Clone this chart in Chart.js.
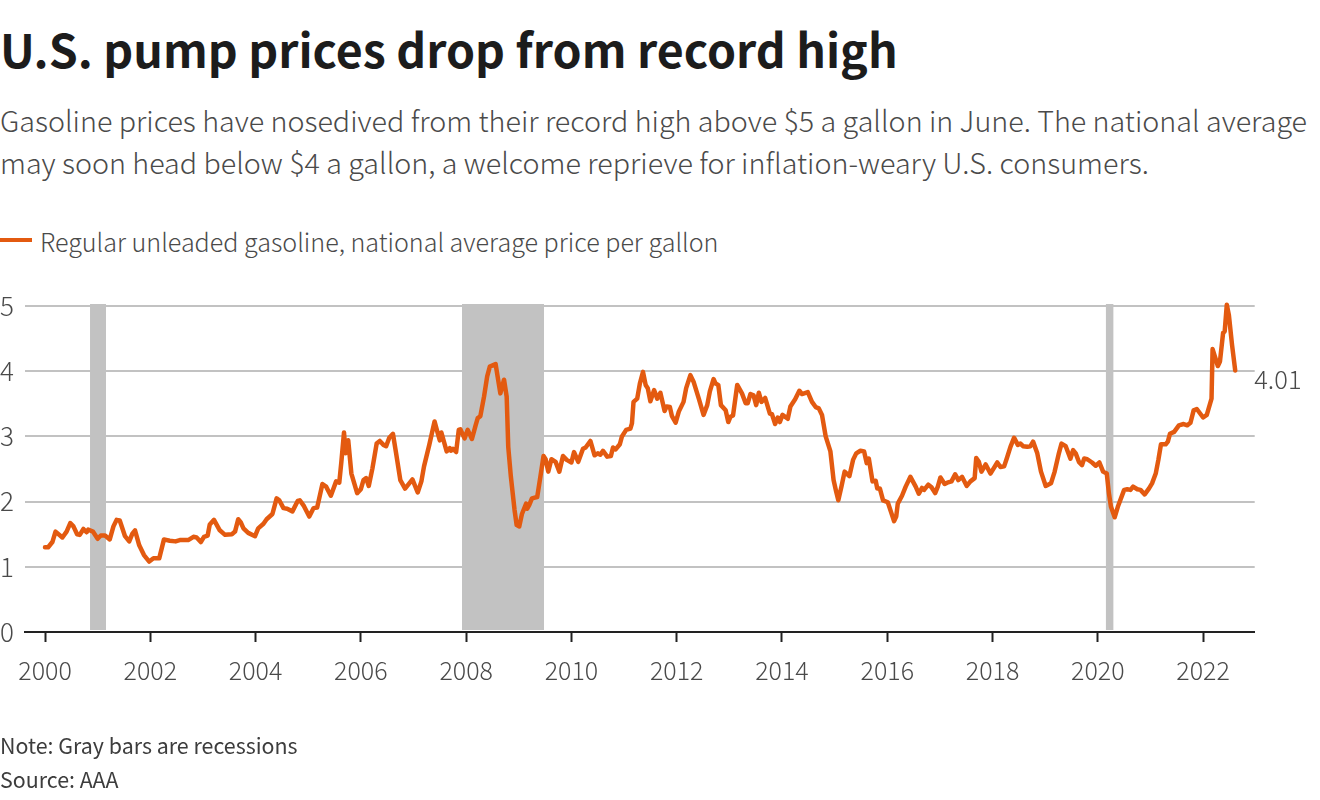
<!DOCTYPE html>
<html>
<head>
<meta charset="utf-8">
<script src="https://cdn.jsdelivr.net/npm/chart.js@4"></script>
<style>
  html, body { margin: 0; padding: 0; background: #fff; }
  body { width: 1320px; height: 800px; position: relative; overflow: hidden; font-family: "Noto Sans CJK JP", "Noto Sans", sans-serif; }
  canvas { position: absolute; left: 0; top: 0; }
  .txt { position: absolute; left: 0; white-space: nowrap; }
  #title { top: 13px; font-size: 46.5px; font-weight: 700; color: #1c1c1c; line-height: 70px; margin: 0; }
  .sub { font-size: 28.68px; font-weight: 300; color: #4a4a4a; line-height: 42px; }
  #legend { left: 40px; top: 224px; font-size: 25.08px; font-weight: 300; color: #4a4a4a; line-height: 34px; }
  #swatch { position: absolute; left: 0; top: 238px; width: 32px; height: 4px; background: #e35a10; }
  .foot { font-size: 21.4px; color: #3d3d3d; line-height: 28px; }
</style>
</head>
<body>
<h1 class="txt" id="title">U.S. pump prices drop from record high</h1>
<div class="txt sub" style="top:99px">Gasoline prices have nosedived from their record high above $5 a gallon in June. The national average</div>
<div class="txt sub" style="top:141px">may soon head below $4 a gallon, a welcome reprieve for inflation-weary U.S. consumers.</div>
<div id="swatch"></div>
<div class="txt" id="legend">Regular unleaded gasoline, national average price per gallon</div>
<canvas id="chart" width="1320" height="800"></canvas>
<div class="txt foot" style="top:731px">Note: Gray bars are recessions</div>
<div class="txt foot" style="top:765px">Source: AAA</div>
<script>
// Values, x in fractional years
const dates = [
  2000.00, 2000.06, 2000.14, 2000.20, 2000.33, 2000.41, 2000.48, 2000.54, 2000.61, 2000.66, 2000.73, 2000.79, 2000.82, 2000.91,
  2001.00, 2001.06, 2001.14, 2001.23, 2001.30, 2001.36, 2001.42, 2001.52, 2001.60, 2001.66, 2001.71, 2001.79, 2001.88, 2001.98,
  2002.06, 2002.17, 2002.26, 2002.37, 2002.48, 2002.56, 2002.72, 2002.82, 2002.88, 2002.96,
  2003.02, 2003.09, 2003.13, 2003.21, 2003.32, 2003.42, 2003.55, 2003.61, 2003.67, 2003.72, 2003.77, 2003.86, 2003.99,
  2004.05, 2004.15, 2004.21, 2004.32, 2004.40, 2004.45, 2004.53, 2004.60, 2004.70, 2004.80, 2004.84, 2004.92,
  2005.02, 2005.10, 2005.17, 2005.27, 2005.34, 2005.43, 2005.53, 2005.59, 2005.63, 2005.68, 2005.71, 2005.76, 2005.82, 2005.93,
  2006.00, 2006.05, 2006.10, 2006.15, 2006.22, 2006.30, 2006.36, 2006.43, 2006.48, 2006.54, 2006.61, 2006.67, 2006.75, 2006.84, 2006.98,
  2007.08, 2007.15, 2007.20, 2007.30, 2007.40, 2007.46, 2007.50, 2007.53, 2007.63, 2007.69, 2007.71, 2007.75, 2007.81, 2007.86, 2007.89, 2007.97,
  2008.03, 2008.11, 2008.18, 2008.22, 2008.27, 2008.34, 2008.40, 2008.45, 2008.56, 2008.65, 2008.72, 2008.77, 2008.80, 2008.85, 2008.92, 2008.96,
  2009.01, 2009.06, 2009.14, 2009.16, 2009.20, 2009.25, 2009.35, 2009.41, 2009.47, 2009.51, 2009.56, 2009.62, 2009.70, 2009.77, 2009.84, 2009.91,
  2010.00, 2010.05, 2010.13, 2010.22, 2010.27, 2010.36, 2010.44, 2010.50, 2010.55, 2010.60, 2010.68, 2010.75, 2010.79, 2010.84, 2010.92, 2010.96,
  2011.04, 2011.12, 2011.15, 2011.18, 2011.25, 2011.30, 2011.36, 2011.41, 2011.45, 2011.50, 2011.57, 2011.63, 2011.69, 2011.77, 2011.81, 2011.87, 2011.91, 2011.98,
  2012.04, 2012.13, 2012.18, 2012.26, 2012.32, 2012.42, 2012.51, 2012.58, 2012.63, 2012.70, 2012.74, 2012.79, 2012.84, 2012.93, 2012.98,
  2013.02, 2013.07, 2013.15, 2013.24, 2013.31, 2013.35, 2013.40, 2013.46, 2013.51, 2013.56, 2013.61, 2013.68, 2013.77, 2013.81, 2013.87, 2013.92, 2013.96,
  2014.01, 2014.11, 2014.16, 2014.25, 2014.33, 2014.38, 2014.49, 2014.57, 2014.64, 2014.70, 2014.76, 2014.83, 2014.92, 2014.98,
  2015.03, 2015.07, 2015.13, 2015.19, 2015.28, 2015.35, 2015.41, 2015.49, 2015.56, 2015.61, 2015.65, 2015.72, 2015.78, 2015.81, 2015.86, 2015.92,
  2016.01, 2016.08, 2016.13, 2016.17, 2016.20, 2016.28, 2016.35, 2016.44, 2016.54, 2016.60, 2016.66, 2016.70, 2016.78, 2016.84, 2016.91, 2016.96,
  2017.01, 2017.09, 2017.14, 2017.22, 2017.29, 2017.35, 2017.42, 2017.51, 2017.58, 2017.66, 2017.69, 2017.74, 2017.79, 2017.87, 2017.96,
  2018.09, 2018.15, 2018.22, 2018.27, 2018.34, 2018.41, 2018.48, 2018.53, 2018.58, 2018.66, 2018.72, 2018.77, 2018.85, 2018.92,
  2019.01, 2019.11, 2019.18, 2019.26, 2019.31, 2019.39, 2019.48, 2019.53, 2019.58, 2019.64, 2019.70, 2019.74, 2019.80, 2019.89, 2019.96,
  2020.03, 2020.10, 2020.17, 2020.21, 2020.25, 2020.32, 2020.38, 2020.50, 2020.56, 2020.62, 2020.67, 2020.75, 2020.81, 2020.89, 2020.97,
  2021.03, 2021.10, 2021.15, 2021.20, 2021.29, 2021.33, 2021.37, 2021.45, 2021.54, 2021.63, 2021.70, 2021.76, 2021.82, 2021.88,
  2022.00, 2022.07, 2022.16, 2022.18, 2022.28, 2022.32, 2022.38, 2022.41, 2022.45, 2022.49, 2022.55, 2022.61
];
const prices = [
  1.30, 1.30, 1.38, 1.54, 1.45, 1.54, 1.67, 1.62, 1.50, 1.49, 1.58, 1.53, 1.57, 1.54,
  1.43, 1.48, 1.48, 1.42, 1.62, 1.72, 1.71, 1.47, 1.39, 1.51, 1.56, 1.33, 1.18, 1.08,
  1.13, 1.13, 1.42, 1.40, 1.39, 1.41, 1.41, 1.46, 1.45, 1.38,
  1.46, 1.48, 1.65, 1.72, 1.56, 1.49, 1.50, 1.54, 1.73, 1.68, 1.59, 1.52, 1.47,
  1.59, 1.66, 1.73, 1.81, 2.05, 2.02, 1.90, 1.89, 1.85, 2.01, 2.02, 1.93,
  1.77, 1.90, 1.91, 2.27, 2.23, 2.09, 2.31, 2.29, 2.61, 3.06, 2.74, 2.94, 2.43, 2.13,
  2.19, 2.33, 2.36, 2.24, 2.51, 2.89, 2.93, 2.87, 2.85, 2.98, 3.04, 2.74, 2.33, 2.20, 2.34,
  2.14, 2.31, 2.54, 2.87, 3.23, 3.05, 2.94, 3.06, 2.77, 2.82, 2.78, 2.81, 2.76, 3.10, 3.11, 2.97,
  3.10, 2.96, 3.17, 3.28, 3.31, 3.61, 3.92, 4.07, 4.11, 3.66, 3.87, 3.61, 2.84, 2.38, 1.87, 1.64,
  1.62, 1.81, 1.97, 1.89, 1.95, 2.05, 2.07, 2.38, 2.70, 2.65, 2.46, 2.65, 2.61, 2.46, 2.70, 2.64,
  2.60, 2.76, 2.61, 2.81, 2.83, 2.93, 2.71, 2.74, 2.72, 2.78, 2.69, 2.70, 2.83, 2.80, 2.88, 3.00,
  3.10, 3.12, 3.20, 3.53, 3.58, 3.81, 3.99, 3.79, 3.74, 3.54, 3.71, 3.58, 3.67, 3.39, 3.46, 3.45, 3.31, 3.21,
  3.38, 3.53, 3.74, 3.94, 3.84, 3.58, 3.33, 3.48, 3.69, 3.88, 3.81, 3.79, 3.48, 3.40, 3.22,
  3.30, 3.32, 3.79, 3.66, 3.51, 3.51, 3.65, 3.63, 3.48, 3.67, 3.53, 3.59, 3.35, 3.34, 3.19, 3.29, 3.22,
  3.33, 3.27, 3.46, 3.57, 3.70, 3.65, 3.68, 3.53, 3.45, 3.43, 3.33, 3.00, 2.77, 2.33,
  2.15, 2.02, 2.23, 2.46, 2.39, 2.64, 2.74, 2.78, 2.77, 2.59, 2.66, 2.31, 2.32, 2.20, 2.20, 2.02,
  1.99, 1.82, 1.70, 1.77, 1.97, 2.09, 2.23, 2.38, 2.23, 2.12, 2.21, 2.18, 2.26, 2.22, 2.13, 2.23,
  2.37, 2.27, 2.29, 2.31, 2.42, 2.33, 2.38, 2.24, 2.31, 2.36, 2.67, 2.61, 2.46, 2.57, 2.43,
  2.60, 2.53, 2.54, 2.66, 2.84, 2.98, 2.87, 2.89, 2.85, 2.84, 2.85, 2.92, 2.74, 2.46,
  2.24, 2.28, 2.46, 2.74, 2.89, 2.85, 2.66, 2.79, 2.74, 2.61, 2.56, 2.66, 2.65, 2.60, 2.55,
  2.60, 2.46, 2.43, 2.13, 1.92, 1.76, 1.92, 2.18, 2.19, 2.18, 2.23, 2.19, 2.18, 2.11, 2.20,
  2.28, 2.43, 2.64, 2.88, 2.88, 2.92, 3.04, 3.07, 3.17, 3.19, 3.17, 3.21, 3.40, 3.42,
  3.29, 3.33, 3.58, 4.34, 4.08, 4.15, 4.59, 4.61, 5.02, 4.86, 4.40, 4.01
];

// Recessions: start and end year, low and high edge of the gray bars
const recessionStarts = [2000.855, 2007.92, 2020.15];
const recessionEnds = [2001.16, 2009.48, 2020.30];
const recessionLow = 0.03;
const recessionHigh = 5.03;

const xTicks = [2000, 2002, 2004, 2006, 2008, 2010, 2012, 2014, 2016, 2018, 2020, 2022];
const yTicks = [0, 1, 2, 3, 4, 5];

const ORANGE = "#e35a10";
const GRAY = "#c2c2c2";
const DARK = "#222222";
const LABEL = "#4a4a4a";
const FONT_FAMILY = "'Noto Sans CJK JP', 'Noto Sans', sans-serif";

const recessionSets = recessionStarts.map((start, i) => ({
  type: "line",
  data: [{ x: start, y: recessionHigh }, { x: recessionEnds[i], y: recessionHigh }],
  borderWidth: 0,
  pointRadius: 0,
  backgroundColor: GRAY,
  fill: { value: recessionLow },
  order: 2,
  clip: false,
}));

// Last value written to the right of the line
const endLabel = {
  id: "endLabel",
  afterDatasetsDraw(chart) {
    const last = prices.length - 1;
    const { ctx, scales } = chart;
    ctx.save();
    ctx.font = "300 25.5px " + FONT_FAMILY;
    ctx.fillStyle = LABEL;
    ctx.textBaseline = "middle";
    ctx.fillText(prices[last].toFixed(2), scales.x.getPixelForValue(dates[last]) + 19, scales.y.getPixelForValue(prices[last]) + 9);
    ctx.restore();
  },
};

new Chart(document.getElementById("chart"), {
  type: "line",
  data: {
    datasets: [
      {
        data: dates.map((d, i) => ({ x: d, y: prices[i] })),
        borderColor: ORANGE,
        borderWidth: 4.5,
        borderJoinStyle: "round",
        borderCapStyle: "round",
        pointRadius: 0,
        tension: 0,
        fill: false,
        order: 1,
        clip: false,
      },
      ...recessionSets,
    ],
  },
  options: {
    responsive: false,
    animation: false,
    layout: { padding: { top: 299.5, right: 65.3, left: 0, bottom: 0 } },
    plugins: { legend: { display: false }, title: { display: false }, tooltip: { enabled: false } },
    scales: {
      x: {
        type: "linear",
        min: 1999.62,
        max: 2022.98,
        afterBuildTicks: (scale) => { scale.ticks = xTicks.map((v) => ({ value: v })); },
        afterFit: (scale) => { scale.height = 168; },
        grid: { drawOnChartArea: false, drawTicks: true, tickLength: 10, tickWidth: 2, tickColor: DARK },
        border: { color: DARK, width: 2 },
        ticks: {
          autoSkip: false,
          maxRotation: 0,
          padding: 13,
          color: LABEL,
          font: { family: FONT_FAMILY, size: 25, weight: "300" },
          callback: (v) => String(v),
        },
      },
      y: {
        min: 0,
        max: 5.1,
        afterBuildTicks: (scale) => { scale.ticks = yTicks.map((v) => ({ value: v })); },
        afterFit: (scale) => { scale.width = 25; },
        grid: { color: GRAY, lineWidth: 2, drawTicks: false },
        border: { display: false },
        ticks: {
          padding: 11,
          color: LABEL,
          font: { family: FONT_FAMILY, size: 26, weight: "300" },
          callback: (v) => String(v),
        },
      },
    },
  },
  plugins: [endLabel],
});
</script>
</body>
</html>
